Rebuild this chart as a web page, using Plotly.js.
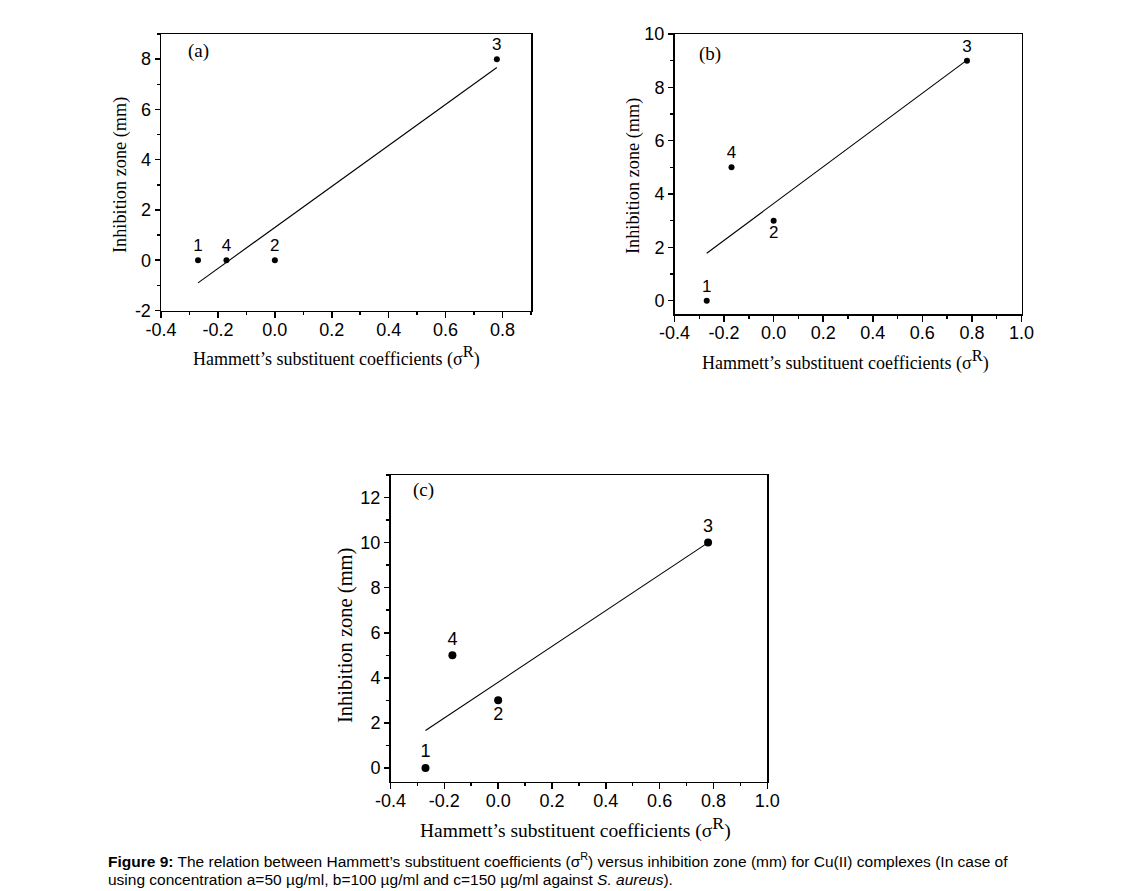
<!DOCTYPE html>
<html>
<head>
<meta charset="utf-8">
<script src="https://cdn.plot.ly/plotly-3.0.1.min.js"></script>
<style>html,body{margin:0;padding:0;background:#fff;}#chart{width:1126px;height:891px;}</style>
</head>
<body>
<div id="chart"></div>
<script>
// Data
const sigmaR = [-0.27, 0.00, 0.78, -0.17];     // compounds 1,2,3,4
const pointLabels = ['1', '2', '3', '4'];
const zoneA = [0, 0, 8, 0];                     // 50 µg/ml
const zoneB = [0, 3, 9, 5];                     // 100 µg/ml
const zoneC = [0, 3, 10, 5];                    // 150 µg/ml
const fitX = [-0.27, 0.78];
const fitA = [-0.9, 7.67];
const fitB = [1.78, 9.02];
const fitC = [1.66, 10.0];
const xTickVals = [-0.4, -0.2, 0.0, 0.2, 0.4, 0.6, 0.8, 1.0];
const xTickText = ['-0.4', '-0.2', '0.0', '0.2', '0.4', '0.6', '0.8', '1.0'];
const yTickValsA = [-2, 0, 2, 4, 6, 8];
const yTickTextA = ['-2', '0', '2', '4', '6', '8'];
const yTickValsB = [0, 2, 4, 6, 8, 10];
const yTickTextB = ['0', '2', '4', '6', '8', '10'];
const yTickValsC = [0, 2, 4, 6, 8, 10, 12];
const yTickTextC = ['0', '2', '4', '6', '8', '10', '12'];

const W = 1126, H = 891;
const px = v => v / W;
const py = v => 1 - v / H;

const sans = 'Arial, "Liberation Sans", sans-serif';
const serif = '"Times New Roman", "Liberation Serif", serif';

function pts(y, xa, ya, size, pos, fs) {
  return {
    x: sigmaR, y: y, xaxis: xa, yaxis: ya, mode: 'markers+text',
    text: pointLabels, textposition: pos,
    textfont: {family: sans, size: fs, color: '#000'},
    marker: {color: '#000', size: size}, showlegend: false, hoverinfo: 'x+y', cliponaxis: false
  };
}
function fit(y, xa, ya) {
  return {x: fitX, y: y, xaxis: xa, yaxis: ya, mode: 'lines',
    line: {color: '#000', width: 1.1}, showlegend: false};
}

const traces = [
  fit(fitA, 'x', 'y'),
  pts(zoneA, 'x', 'y', 6, ['top center', 'top center', 'top center', 'top center'], 17),
  fit(fitB, 'x2', 'y2'),
  pts(zoneB, 'x2', 'y2', 6, ['top center', 'bottom center', 'top center', 'top center'], 17),
  fit(fitC, 'x3', 'y3'),
  pts(zoneC, 'x3', 'y3', 8, ['top center', 'bottom center', 'top center', 'top center'], 18)
];

function xax(dom, range, anchor, fs) {
  return {domain: dom, range: range, anchor: anchor,
    tickvals: xTickVals, ticktext: xTickText,
    ticks: 'outside', ticklen: 6, tickwidth: 1.5, tickcolor: '#000',
    ticklabelstandoff: -4,
    minor: {ticks: 'outside', ticklen: 3, tickwidth: 1.5, tickcolor: '#000', dtick: 0.1, tick0: 0},
    showline: true, linewidth: 1.5, linecolor: '#000', mirror: true,
    showgrid: false, zeroline: false, fixedrange: true,
    tickfont: {family: sans, size: fs, color: '#000'}};
}
function yax(dom, range, anchor, vals, text, fs) {
  return {domain: dom, range: range, anchor: anchor,
    tickvals: vals, ticktext: text,
    ticks: 'outside', ticklen: 5, tickwidth: 1.5, tickcolor: '#000',
    minor: {ticks: 'outside', ticklen: 3, tickwidth: 1.5, tickcolor: '#000', dtick: 1, tick0: 0},
    showline: true, linewidth: 1.5, linecolor: '#000', mirror: true,
    showgrid: false, zeroline: false, fixedrange: true,
    tickfont: {family: sans, size: fs, color: '#000'}};
}

const xTitle = 'Hammett\u2019s substituent coefficients (\u03c3<sup><span style="font-size:130%">R</span></sup>)';
const yTitle = 'Inhibition zone (mm)';

function ann(text, x, y, fs, extra) {
  return Object.assign({text: text, xref: 'paper', yref: 'paper', x: px(x), y: py(y),
    xanchor: 'center', yanchor: 'middle', showarrow: false,
    font: {family: serif, size: fs, color: '#000'}}, extra || {});
}
function cap(text, y) {
  return {text: text, xref: 'paper', yref: 'paper', x: px(106), y: py(y),
    xanchor: 'left', yanchor: 'middle', align: 'left', showarrow: false,
    font: {family: sans, size: 15.5, color: '#000'}};
}

const layout = {
  width: W, height: H,
  margin: {l: 0, r: 0, t: 0, b: 0},
  paper_bgcolor: '#fff', plot_bgcolor: '#fff',
  showlegend: false,
  xaxis: xax([px(161), px(531)], [-0.4, 0.9], 'y', 18),
  yaxis: yax([py(310.5), py(34)], [-2, 9], 'x', yTickValsA, yTickTextA, 18),
  xaxis2: xax([px(674.5), px(1021.5)], [-0.4, 1.0], 'y2', 18),
  yaxis2: yax([py(314), py(34)], [-0.5, 10], 'x2', yTickValsB, yTickTextB, 18),
  xaxis3: xax([px(390.5), px(767.3)], [-0.4, 1.0], 'y3', 18),
  yaxis3: yax([py(781.5), py(475)], [-0.6, 13], 'x3', yTickValsC, yTickTextC, 18),
  annotations: [
    ann('(a)', 198, 51, 19),
    ann('(b)', 710, 54, 19),
    ann('(c)', 423, 490, 19),
    ann(xTitle, 336, 356, 18),
    ann(xTitle, 845, 360, 18),
    ann(xTitle, 575, 827, 19.5),
    ann(yTitle, 120, 175, 18.3, {textangle: -90}),
    ann(yTitle, 633, 176, 18.3, {textangle: -90}),
    ann(yTitle, 345, 636, 20.5, {textangle: -90}),
    cap('<b>Figure 9:</b> The relation between Hammett\u2019s substituent coefficients (\u03c3<sup>R</sup>) versus inhibition zone (mm) for Cu(II) complexes (In case of', 860),
    cap('using concentration a=50 \u00b5g/ml, b=100 \u00b5g/ml and c=150 \u00b5g/ml against <i>S. aureus</i>).', 879)
  ]
};

Plotly.newPlot('chart', traces, layout, {displayModeBar: false, staticPlot: true});
</script>
</body>
</html>
